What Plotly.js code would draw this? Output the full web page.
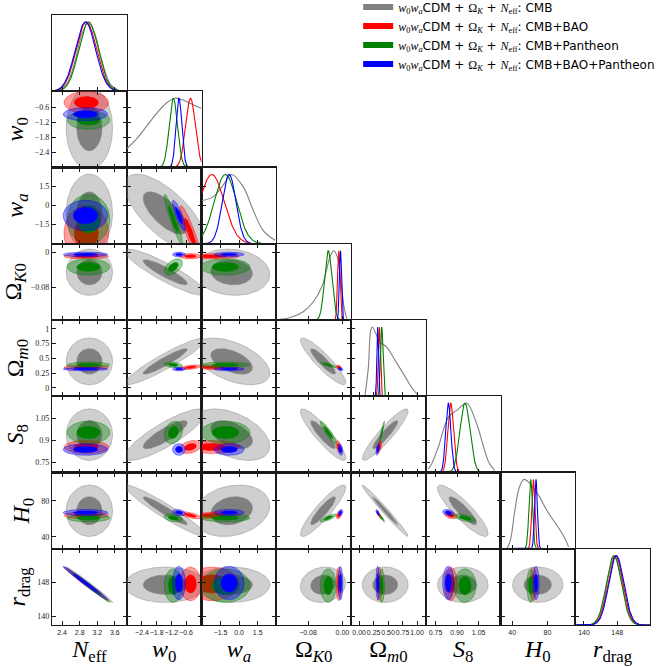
<!DOCTYPE html>
<html><head><meta charset="utf-8">
<script src="https://cdn.plot.ly/plotly-3.0.1.min.js"></script>
<style>body{margin:0;padding:0;background:#fff}</style>
</head><body><div id="plot" style="width:665px;height:667px"></div>
<script>
// ---------- parameters and axes ----------
const paramLabels = ['<i>N</i><sub>eff</sub>', '<i>w</i><sub>0</sub>', '<i>w</i><sub><i>a</i></sub>', 'Ω<sub><i>K</i>0</sub>', 'Ω<sub><i>m</i>0</sub>', '<i>S</i><sub>8</sub>', '<i>H</i><sub>0</sub>', '<i>r</i><sub>drag</sub>'];
const axisRanges = [[2.17,3.87],[-3.02,0.03],[-3.03,3.0],[-0.154,0.02],[-0.14,1.15],[0.682,1.202],[26.8,111.5],[137.9,155.9]];
const tickVals = [[2.4,2.8,3.2,3.6],[-2.4,-1.8,-1.2,-0.6],[-1.5,0,1.5],[-0.08,0],[0,0.25,0.5,0.75,1],[0.75,0.9,1.05],[40,80],[140,148]];
const xTickText = [['2.4','2.8','3.2','3.6'],['−2.4','−1.8','−1.2','−0.6'],['−1.5','0.0','1.5'],['−0.08','0.00'],['0.00','0.25','0.50','0.75','1.00'],['0.75','0.90','1.05'],['40','80'],['140','148']];
const yTickText = [['2.4','2.8','3.2','3.6'],['−2.4','−1.8','−1.2','−0.6'],['−1.5','0','1.5'],['−0.08','0'],['0','0.25','0.5','0.75','1'],['0.75','0.9','1.05'],['40','80'],['140','148']];

// ---------- datasets ----------
const datasetNames = ['CMB','CMB+BAO','CMB+Pantheon','CMB+BAO+Pantheon'];
const datasetRGB = ['128,128,128','255,0,0','0,128,0','0,0,255'];

// posterior summaries (order: Neff, w0, wa, OmK0, Om0, S8, H0, rdrag)
const meanCMB = [3.02,-1.45,-0.6,-0.045,0.45,0.94,69,147.4];
const sdCMB   = [0.24,0.75,1.4,0.024,0.18,0.08,13,1.9];
const meanBAO = [2.95,-0.42,-2.2,-0.0085,0.35,0.856,64,147.6];
const sdBAO   = [0.23,0.2,1.0,0.0028,0.018,0.02,1.8,1.8];
const meanPan = [3.0,-1.12,-1.1,-0.033,0.39,0.955,61,147.2];
const sdPan   = [0.22,0.17,0.9,0.0085,0.022,0.035,2.0,1.8];
const meanAll = [2.93,-0.89,-0.8,-0.0045,0.32,0.839,67,147.8];
const sdAll   = [0.23,0.12,0.55,0.0025,0.014,0.018,1.6,1.8];

// pairwise correlations, lower triangle: row i (1..7) vs columns 0..i-1
const corrCMB = [[0],[0,-0.7],[0,-0.9,-0.1],[0,0.93,-0.5,-0.9],[0,0.85,-0.45,-0.9,0.92],[0,-0.95,0.2,0.9,-0.985,-0.88],[-0.99,0,0,0.1,0,0,0]];
const corrBAO = [[0],[0,-0.9],[0,0,0],[0,0.5,-0.3,-0.3],[0,0.3,0,-0.5,0.6],[0,-0.67,0.3,0.3,-0.8,-0.4],[-0.99,0,0,0,0,0,0]];
const corrPan = [[0],[0,-0.93],[0,0.5,0],[0,-0.3,0,-0.85],[0,0.2,0,-0.92,0.95],[0,-0.3,0,0.8,-0.9,-0.6],[-0.99,0,0,0,0,0,0]];
const corrAll = [[0],[0,-0.85],[0,0,0],[0,0,0,-0.3],[0,0,0,-0.3,0.5],[0,-0.3,0,0.3,-0.6,-0.3],[-0.99,0,0,0,0,0,0]];

// CMB-only 1D marginals (non-Gaussian), read point by point
const cmbCurveX = [
 [2.3,2.5,2.7,2.85,3.0,3.15,3.3,3.5,3.7],
 [-3.02,-2.6,-2.2,-1.8,-1.4,-1.05,-0.7,-0.4,0.03],
 [-3.03,-2.08,-1.27,-0.6,0.34,1.15,1.95,2.9],
 [-0.154,-0.121,-0.091,-0.068,-0.048,-0.037,-0.027,-0.0196,-0.012,-0.004,0.0037,0.01],
 [0.10,0.16,0.20,0.228,0.29,0.36,0.476,0.62,0.76,0.905,1.02],
 [0.70,0.724,0.77,0.84,0.9,0.967,1.037,1.08,1.12,1.16],
 [34,38,43,48,53,58,64,70,79,90,98,104],
 [141.5,143,144.5,146,147.4,148.8,150.3,151.8,153.3]
];
const cmbCurveY = [
 [0.01,0.1,0.45,0.82,1.0,0.82,0.45,0.1,0.01],
 [0.27,0.42,0.6,0.78,0.93,1.0,0.97,0.92,0.85],
 [0.62,0.68,0.85,1.0,0.82,0.48,0.19,0.05],
 [0.0,0.035,0.12,0.26,0.48,0.72,0.94,1.0,0.91,0.57,0.19,0.02],
 [0.0,0.42,0.95,1.0,0.9,0.78,0.71,0.52,0.33,0.13,0.01],
 [0.05,0.13,0.37,0.8,0.9,1.0,0.7,0.4,0.15,0.03],
 [0.0,0.12,0.55,0.88,1.0,0.97,0.88,0.77,0.56,0.35,0.19,0.03],
 [0.0,0.05,0.27,0.74,1.0,0.74,0.27,0.05,0.0]
];

// ---------- build ----------
const N = 8;
const contourRadii = [2.2, 1.2]; // outer, inner (in sd units)
const sets = [
  {mean:meanCMB, sd:sdCMB, corr:corrCMB},
  {mean:meanBAO, sd:sdBAO, corr:corrBAO},
  {mean:meanPan, sd:sdPan, corr:corrPan},
  {mean:meanAll, sd:sdAll, corr:corrAll}
];
function pidx(i,j){return i*(i+1)/2 + j + 1;}
function an(p,k){return k===1?p:p+k;}
function lk(p,k){return k===1?p+'axis':p+'axis'+k;}

function ellipse(mx,my,sx,sy,rho,r){
  const xs=[],ys=[],n=120,s=Math.sqrt(Math.max(0,1-rho*rho));
  for(let t=0;t<=n;t++){const a=2*Math.PI*t/n,u=Math.cos(a),v=Math.sin(a);
    xs.push(mx+r*sx*u); ys.push(my+r*sy*(rho*u+s*v));}
  return [xs,ys];
}

const traces = [];
const layout = {
  width:665, height:667, margin:{l:52,r:15,t:15,b:42,autoexpand:false},
  paper_bgcolor:'#fff', plot_bgcolor:'rgba(0,0,0,0)', showlegend:true,
  legend:{x:0.512,y:1.037,xanchor:'left',yanchor:'top',bgcolor:'rgba(0,0,0,0)',
    font:{family:'DejaVu Sans',size:12,color:'#000'},itemwidth:30,tracegroupgap:0},
  font:{family:'DejaVu Sans',color:'#000'}
};
const lineCol = '#1a1a1a';
const serif = 'Liberation Serif';

for(let i=0;i<N;i++){
  for(let j=0;j<=i;j++){
    const k = pidx(i,j);
    const xa = {domain:[j/N,(j+1)/N], anchor:an('y',k), range:axisRanges[j], showline:true, linecolor:lineCol, linewidth:1.2,
      mirror:(i===j)?true:'ticks', ticks:'inside', ticklen:4, tickwidth:1, tickcolor:lineCol,
      tickmode:'array', tickvals:tickVals[j], ticktext:xTickText[j], showticklabels:(i===N-1), tickangle:0,
      tickfont:{family:'Liberation Sans',size:7,color:'#222'}, showgrid:false, zeroline:false, fixedrange:true};
    if(i===N-1){ xa.title={text:paramLabels[j], font:{family:serif,size:24,color:'#000'}, standoff:0}; }
    const ya = {domain:[1-(i+1)/N,1-i/N], anchor:an('x',k), showline:true, linecolor:lineCol, linewidth:1.2,
      showgrid:false, zeroline:false, fixedrange:true};
    if(i===j){
      Object.assign(ya,{range:[0,1.1], mirror:true, ticks:'', showticklabels:false});
    } else {
      Object.assign(ya,{range:axisRanges[i], mirror:'ticks', ticks:'inside', ticklen:4, tickwidth:1, tickcolor:lineCol,
        tickmode:'array', tickvals:tickVals[i], ticktext:yTickText[i], showticklabels:(j===0), tickangle:0,
        tickfont:{family:serif,size:8,color:'#222'}});
      if(j===0){ ya.title={text:paramLabels[i], font:{family:serif,size:24,color:'#000'}, standoff:4}; }
    }
    layout[lk('x',k)] = xa; layout[lk('y',k)] = ya;

    if(i===j){
      // 1D marginals
      traces.push({type:'scatter',mode:'lines',x:cmbCurveX[i],y:cmbCurveY[i],xaxis:an('x',k),yaxis:an('y',k),
        line:{color:'rgb(128,128,128)',width:1.1,shape:'spline'},showlegend:false,hoverinfo:'skip'});
      for(let d=1;d<4;d++){
        const m=sets[d].mean[i], s=sets[d].sd[i], xs=[], ys=[];
        const lo=axisRanges[i][0], hi=axisRanges[i][1];
        for(let t=0;t<=300;t++){const x=lo+(hi-lo)*t/300; xs.push(x); ys.push(Math.exp(-0.5*((x-m)/s)**2));}
        traces.push({type:'scatter',mode:'lines',x:xs,y:ys,xaxis:an('x',k),yaxis:an('y',k),
          line:{color:'rgb('+datasetRGB[d]+')',width:1.1},showlegend:false,hoverinfo:'skip'});
      }
      if(i>0){
        const ek = 36+i;
        layout[lk('y',ek)] = {overlaying:an('y',k), anchor:an('x',k), side:'left', range:axisRanges[i],
          tickmode:'array', tickvals:tickVals[i], ticks:'inside', ticklen:4, tickwidth:1, tickcolor:lineCol,
          showticklabels:false, showline:false, showgrid:false, zeroline:false, fixedrange:true};
        traces.push({type:'scatter',mode:'none',x:[],y:[],xaxis:an('x',k),yaxis:an('y',ek),showlegend:false,hoverinfo:'skip'});
      }
    } else {
      for(let d=0;d<4;d++){
        const S=sets[d], rho=S.corr[i-1][j];
        contourRadii.forEach((r,li)=>{
          const [xs,ys]=ellipse(S.mean[j],S.mean[i],S.sd[j],S.sd[i],rho,r);
          const c=datasetRGB[d];
          traces.push({type:'scatter',mode:'lines',x:xs,y:ys,xaxis:an('x',k),yaxis:an('y',k),fill:'toself',
            fillcolor: li===0 ? 'rgba('+c+',0.38)' : 'rgb('+c+')',
            line:{color: li===0 ? 'rgba('+c+',0.55)' : 'rgb('+c+')', width: li===0?0.8:0.5},
            showlegend:false, hoverinfo:'skip'});
        });
      }
    }
  }
}

// legend entries
const mathS = t => '<span style="font-family:Liberation Serif">'+t+'</span>';
const modelText = mathS('<i>w</i><sub>0</sub><i>w</i><sub><i>a</i></sub>')+'CDM + '+mathS('Ω<sub><i>K</i></sub>')+' + '+mathS('<i>N</i><sub>eff</sub>')+': ';
for(let d=0;d<4;d++){
  traces.push({type:'scatter',mode:'none',x:[null],y:[null],fill:'toself',fillcolor:'rgb('+datasetRGB[d]+')',
    name:modelText+datasetNames[d],showlegend:true,hoverinfo:'skip'});
}

Plotly.newPlot('plot',traces,layout,{staticPlot:true,displayModeBar:false});
</script></body></html>
